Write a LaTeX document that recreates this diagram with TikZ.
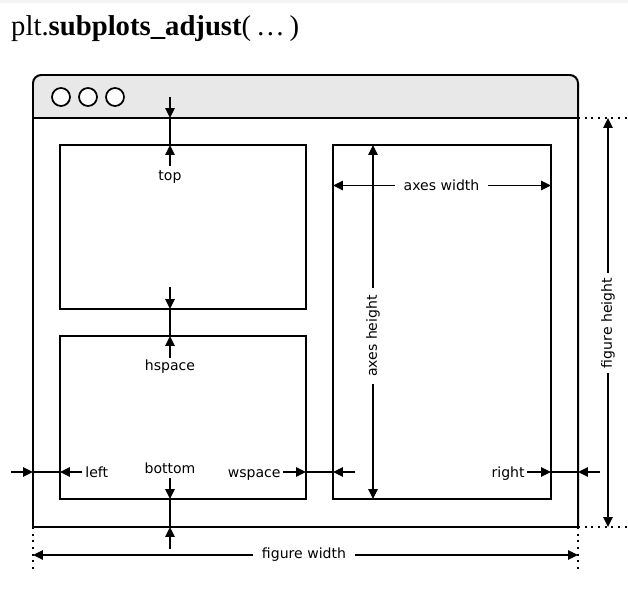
\documentclass[tikz,border=0pt]{standalone}
\usepackage{fontspec}
\setsansfont{DejaVu Sans}
\newfontfamily\titlefont{Liberation Serif}
\usetikzlibrary{arrows.meta}
\newcommand\pxu{0.03cm}
\definecolor{barfill}{gray}{0.91}
\tikzset{
  frame/.style={line width=1.7pt},
  axbox/.style={draw, line width=1.7pt, outer sep=0pt, inner sep=0pt},
  dim/.style={line width=1.6pt, -{Triangle[length=8.5pt,width=8pt]}},
  link/.style={line width=1.6pt},
  guide/.style={line width=1.6pt, dash pattern=on 1.6pt off 4.1pt},
  lbl/.style={font=\sffamily\fontsize{12}{14}\selectfont, inner sep=1pt},
}
\begin{document}
\begin{tikzpicture}[x=\pxu, y=-\pxu]
\useasboundingbox (0,0) rectangle (628,594);
\fill[black!4] (0,0) rectangle (628,3);
\node[anchor=base west, inner sep=0pt, font=\titlefont\fontsize{24.5}{28}\selectfont] (title) at (11,36)
  {plt.\textbf{subplots\_adjust}(\,\ldots\,)};

\coordinate (winNW) at (33,75);
\coordinate (winSW) at (33,527);
\coordinate (winSE) at (578,527);
\coordinate (barW) at (33,118);
\coordinate (barE) at (578,118);

\fill[barfill, rounded corners=7pt] (barW) -- (winNW) -- (winNW -| barE) -- (barE);
\draw[frame, rounded corners=7pt] (winSW) -- (winNW) -- (winNW -| winSE) -- (winSE);
\draw[frame, line cap=rect] (winSW) -- (winSE);
\draw[frame] (barW) -- (barE);
\foreach \x in {61,88,115}
  \draw[line width=1.5pt, fill=white] (\x,97) circle[radius=9];

\node[axbox, minimum width=246*\pxu, minimum height=164*\pxu] (axTop) at (183,227) {};
\node[axbox, minimum width=246*\pxu, minimum height=163*\pxu] (axBot) at (183,417.5) {};
\node[axbox, minimum width=218*\pxu, minimum height=354*\pxu] (axRight) at (442,322) {};

\coordinate (topA) at (170,97);
\coordinate (topB) at (170,166);
\draw[dim] (topA) -- (topA |- barW);
\draw[link] (topA |- barW) -- (topA |- axTop.north);
\draw[dim] (topB) -- (topB |- axTop.north);
\node[lbl, anchor=base] (ltop) at (170,180) {top};

\coordinate (hspA) at (170,287);
\coordinate (hspB) at (170,358);
\draw[dim] (hspA) -- (hspA |- axTop.south);
\draw[link] (hspA |- axTop.south) -- (hspA |- axBot.north);
\draw[dim] (hspB) -- (hspB |- axBot.north);
\node[lbl, anchor=base] (lhsp) at (170,370) {hspace};

\coordinate (botA) at (170,478);
\coordinate (botB) at (170,549);
\draw[dim] (botA) -- (botA |- axBot.south);
\draw[link] (botA |- axBot.south) -- (botA |- winSW);
\draw[dim] (botB) -- (botB |- winSW);
\node[lbl, anchor=base] (lbot) at (170,473) {bottom};

\coordinate (lftA) at (11,472);
\coordinate (lftB) at (82,472);
\draw[dim] (lftA) -- (lftA -| winSW);
\draw[link] (lftA -| winSW) -- (lftA -| axBot.west);
\draw[dim] (lftB) -- (lftB -| axBot.west);
\node[lbl, anchor=base west] (lleft) at (84,477) {left};

\coordinate (wspA) at (283,472);
\coordinate (wspB) at (355,472);
\draw[dim] (wspA) -- (wspA -| axBot.east);
\draw[link] (wspA -| axBot.east) -- (wspA -| axRight.west);
\draw[dim] (wspB) -- (wspB -| axRight.west);
\node[lbl, anchor=base east] (lwsp) at (282,477) {wspace};

\coordinate (rgtA) at (527,472);
\coordinate (rgtB) at (600,472);
\draw[dim] (rgtA) -- (rgtA -| axRight.east);
\draw[link] (rgtA -| axRight.east) -- (rgtA -| winSE);
\draw[dim] (rgtB) -- (rgtB -| winSE);
\node[lbl, anchor=base east] (lright) at (526,477) {right};

\node[lbl, inner xsep=7.2pt] (law) at (441.5,185.5) {axes width};
\draw[dim] (law.west) -- (law.west -| axRight.west);
\draw[dim] (law.east) -- (law.east -| axRight.east);

\node[lbl, rotate=90, inner xsep=6pt] (lah) at (373,336) {axes height};
\draw[dim] (lah.east) -- (lah.east |- axRight.north);
\draw[dim] (lah.west) -- (lah.west |- axRight.south);

\node[lbl, rotate=90, inner xsep=3.8pt] (lfh) at (608,323) {figure height};
\draw[dim] (lfh.east) -- (lfh.east |- barE);
\draw[dim] (lfh.west) -- (lfh.west |- winSE);

\node[lbl, inner xsep=7.7pt] (lfw) at (304,555) {figure width};
\draw[dim] (lfw.west) -- (lfw.west -| winSW);
\draw[dim] (lfw.east) -- (lfw.east -| winSE);

\draw[guide] (barE) -- ++(50,0);
\draw[guide] (winSE) -- ++(50,0);
\draw[guide] (winSE) -- ++(0,43);
\draw[guide] (winSW) -- ++(0,43);
\end{tikzpicture}
\end{document}
